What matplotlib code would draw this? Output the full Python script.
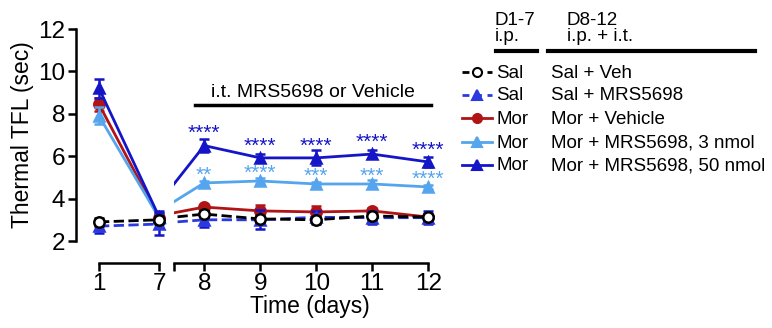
import matplotlib.pyplot as plt
from matplotlib.lines import Line2D

plt.rcParams['font.family'] = ['Liberation Sans', 'DejaVu Sans']

# Данные
days_a = [1, 7]
days_b = [7, 8, 9, 10, 11, 12]

sal_veh = [2.9, 3.0, 3.0, 3.27, 3.04, 3.0, 3.18, 3.13]
sal_veh_err = [0.2, 0.2, 0.2, 0.15, 0.15, 0.15, 0.15, 0.15]
sal_mrs = [2.7, 2.8, 2.8, 3.0, 3.0, 3.12, 3.1, 3.1]
sal_mrs_err = [0.3, 0.5, 0.5, 0.35, 0.45, 0.3, 0.3, 0.3]
mor_veh = [8.45, 3.1, 3.1, 3.6, 3.42, 3.37, 3.42, 3.13]
mor_veh_err = [0.3, 0.2, 0.2, 0.1, 0.3, 0.3, 0.15, 0.1]
mor_3 = [7.9, 3.1, 3.1, 4.74, 4.83, 4.69, 4.69, 4.55]
mor_3_err = [0.4, 0.2, 0.2, 0.1, 0.15, 0.1, 0.2, 0.1]
mor_50 = [9.2, 3.15, 3.15, 6.5, 5.92, 5.92, 6.1, 5.73]
mor_50_err = [0.45, 0.25, 0.25, 0.3, 0.2, 0.35, 0.2, 0.25]

stars_50 = ['****', '****', '****', '****', '****']
stars_3 = ['**', '****', '***', '***', '****']

dark_blue = '#1515c8'
light_blue = '#55a5ee'
red = '#b01414'
blue = '#2a3ae0'

series = [
    (sal_veh, sal_veh_err, 'black', '--', 'o', 'white', 'black', 10),
    (sal_mrs, sal_mrs_err, blue, '--', '^', blue, dark_blue, 9),
    (mor_veh, mor_veh_err, red, '-', 'o', red, red, 6),
    (mor_3, mor_3_err, light_blue, '-', '^', light_blue, light_blue, 7),
    (mor_50, mor_50_err, dark_blue, '-', '^', dark_blue, dark_blue, 8),
]

fig = plt.figure(figsize=(7.72, 3.28), dpi=100)
W, H = 772, 328
top, bottom = 1 - 29 / H, 1 - 241 / H
ax1 = fig.add_axes([76 / W, bottom, (165 - 76) / W, top - bottom])
ax2 = fig.add_axes([174 / W, bottom, (445 - 174) / W, top - bottom], sharey=ax1)

for vals, err, col, ls, mk, mfc, ecol, z in series:
    ax1.errorbar(days_a, vals[:2], yerr=err[:2], color=col, ls=ls, lw=2,
                 marker=mk, ms=7.5, mfc=mfc, mec=col, mew=1.8, ecolor=ecol,
                 elinewidth=1.8, capsize=3.5, capthick=1.8, zorder=z, clip_on=False)
    ax2.errorbar(days_b, vals[2:], yerr=err[2:], color=col, ls=ls, lw=2,
                 marker=mk, ms=7.5, mfc=mfc, mec=col, mew=1.8, ecolor=ecol,
                 elinewidth=1.8, capsize=3.5, capthick=1.8, zorder=z)

ax1.set_xlim(-1.3, 7.6)
ax2.set_xlim(7.46, 12.3)
ax1.set_ylim(2, 12)
ax1.set_yticks([2, 4, 6, 8, 10, 12])
ax1.set_ylabel('Thermal TFL (sec)', fontsize=16.5, labelpad=3)
ax1.tick_params(axis='y', labelsize=17.5, width=1.8, length=6, pad=2)

for ax in (ax1, ax2):
    ax.patch.set_visible(False)
    ax.spines['top'].set_visible(False)
    ax.spines['right'].set_visible(False)
    ax.spines['bottom'].set_position(('outward', 16))
    ax.spines['bottom'].set_linewidth(1.8)
    ax.spines['left'].set_linewidth(1.8)
    ax.tick_params(axis='x', labelsize=17.5, width=1.8, length=6, direction='out', pad=1)

ax1.spines['left'].set_bounds(2, 12)
ax1.spines['bottom'].set_bounds(1, 7)
ax1.set_xticks(days_a)

ax2.spines['left'].set_visible(False)
ax2.tick_params(axis='y', left=False, labelleft=False)
ax2.spines['bottom'].set_bounds(7.46, 12)
ax2.set_xticks(days_b[1:])
ax2.set_xticks([7.46], minor=True)
ax2.tick_params(axis='x', which='minor', length=6, width=1.8)
ax2.set_xlabel('Time (days)', fontsize=16.5, labelpad=0)

# Звёздочки значимости
for d, v, s in zip(days_b[1:], mor_50[3:], stars_50):
    ax2.text(d, v + 0.3, s, color=dark_blue, fontsize=15, ha='center', va='baseline')
for d, v, s in zip(days_b[1:], mor_3[3:], stars_3):
    ax2.text(d, v + 0.12, s, color=light_blue, fontsize=15, ha='center', va='baseline')

# Подпись периода введения
ax2.plot([7.84, 12.05], [8.4, 8.4], color='black', lw=2.5, clip_on=False)
ax2.text(9.95, 8.78, 'i.t. MRS5698 or Vehicle', fontsize=14, ha='center', va='baseline')

# Легенда вручную
lax = fig.add_axes([0, 0, 1, 1])
lax.set_xlim(0, W)
lax.set_ylim(H, 0)
lax.axis('off')
lax.text(495, 25, 'D1-7', fontsize=13.5, ha='left', va='baseline')
lax.text(495, 41, 'i.p.', fontsize=13.5, ha='left', va='baseline')
lax.text(567, 25, 'D8-12', fontsize=13.5, ha='left', va='baseline')
lax.text(567, 41, 'i.p. + i.t.', fontsize=13.5, ha='left', va='baseline')
lax.plot([496, 537], [51, 51], color='black', lw=3)
lax.plot([548, 755], [51, 51], color='black', lw=3)

first_col = ['Sal', 'Sal', 'Mor', 'Mor', 'Mor']
second_col = ['Sal + Veh', 'Sal + MRS5698', 'Mor + Vehicle',
              'Mor + MRS5698, 3 nmol', 'Mor + MRS5698, 50 nmol']
rows_y = [72, 95, 118, 142, 165]
for (vals, err, col, ls, mk, mfc, ecol, z), a, b, y in zip(series, first_col, second_col, rows_y):
    lax.add_line(Line2D([462, 492], [y, y], color=col, ls=ls, lw=2,
                        dashes=(2.5, 2) if ls == '--' else (None, None)))
    lax.plot([477], [y], marker=mk, ms=6.5, mfc=mfc, mec=col, mew=1.5, color=col)
    lax.text(496, y + 1, a, fontsize=13.5, va='center', ha='left')
    lax.text(551, y + 1, b, fontsize=13.5, va='center', ha='left')

plt.savefig('out.png', dpi=100)
